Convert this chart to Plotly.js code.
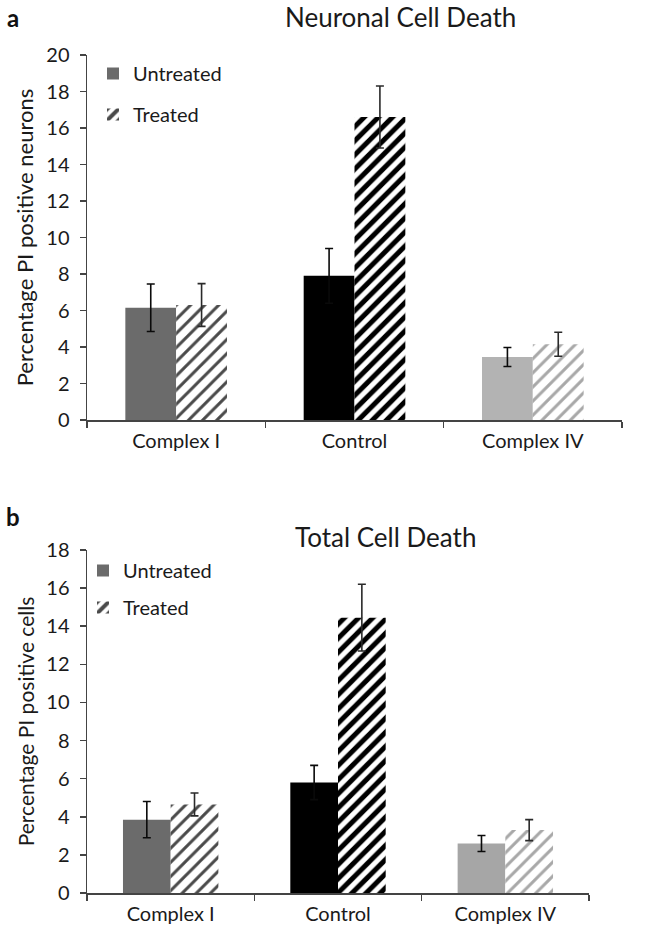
<!DOCTYPE html>
<html>
<head>
<meta charset="utf-8">
<script src="https://cdn.plot.ly/plotly-3.0.1.min.js"></script>
<style>
html,body{margin:0;padding:0;background:#fff;}
#chart{width:650px;height:936px;}
</style>
</head>
<body>
<div id="chart"></div>
<script>
// ---- Data ----
const categories = ["Complex I", "Control", "Complex IV"];
const seriesNames = ["Untreated", "Treated"];

// Panel a: Neuronal Cell Death (percentage PI positive neurons)
const neuronUntreated = [6.15, 7.9, 3.45];
const neuronUntreatedErr = [1.3, 1.5, 0.52];
const neuronTreated = [6.3, 16.6, 4.15];
const neuronTreatedErr = [1.17, 1.7, 0.66];

// Panel b: Total Cell Death (percentage PI positive cells)
const totalUntreated = [3.85, 5.8, 2.6];
const totalUntreatedErr = [0.95, 0.9, 0.42];
const totalTreated = [4.65, 14.45, 3.3];
const totalTreatedErr = [0.6, 1.75, 0.55];

const yTicksA = [0, 2, 4, 6, 8, 10, 12, 14, 16, 18, 20];
const yTicksB = [0, 2, 4, 6, 8, 10, 12, 14, 16, 18];

// ---- Styles ----
const W = 650, H = 936;
const FONT = "Lato, 'Open Sans', sans-serif";
const TXT = "#1a1a1a";
const untreatedColorsA = ["#6b6b6b", "#000000", "#b3b3b3"];
const untreatedColorsB = ["#6b6b6b", "#000000", "#a6a6a6"];
const hatchColors = ["#4a4a4a", "#000000", "#a8a8a8"];
const hatchSolidity = [0.3, 0.5, 0.3];

function untreatedTrace(y, err, colors, xa, ya, legend) {
  return {
    type: "bar", name: seriesNames[0], x: categories, y: y,
    xaxis: xa, yaxis: ya, legend: legend, legendgroup: "u",
    marker: { color: colors, line: { width: 0 } },
    error_y: { type: "data", array: err, visible: true, color: "#0a0a0a", thickness: 1.6, width: 4 },
    hoverinfo: "skip"
  };
}
function treatedTrace(y, err, xa, ya, legend) {
  return {
    type: "bar", name: seriesNames[1], x: categories, y: y,
    xaxis: xa, yaxis: ya, legend: legend, legendgroup: "t",
    marker: {
      color: "#ffffff", line: { width: 0 },
      pattern: { shape: "/", fgcolor: hatchColors, bgcolor: "#ffffff", size: 10, solidity: hatchSolidity, fillmode: "replace" }
    },
    error_y: { type: "data", array: err, visible: true, color: "#2a2a2a", thickness: 1.6, width: 4 },
    hoverinfo: "skip"
  };
}

const data = [
  untreatedTrace(neuronUntreated, neuronUntreatedErr, untreatedColorsA, "x", "y", "legend"),
  treatedTrace(neuronTreated, neuronTreatedErr, "x", "y", "legend"),
  untreatedTrace(totalUntreated, totalUntreatedErr, untreatedColorsB, "x2", "y2", "legend2"),
  treatedTrace(totalTreated, totalTreatedErr, "x2", "y2", "legend2")
];

function px(v) { return v / W; }
function py(v) { return 1 - v / H; }

function xAxis(size, dom, anchor) {
  return {
    type: "category", range: [-0.5, 2.5], showline: true, linecolor: "#444", linewidth: 1.5,
    ticks: "outside", tickson: "boundaries", ticklen: 6, tickcolor: "#444", tickwidth: 1.5,
    showgrid: false, zeroline: false, automargin: false, ticklabelstandoff: 2,
    tickfont: { family: FONT, size: size, color: TXT }, domain: dom, anchor: anchor
  };
}
function yAxis(size, dom, anchor, range, ticks, title, tsize) {
  return {
    showline: true, linecolor: "#444", linewidth: 1.5,
    ticks: "outside", ticklen: 6, tickcolor: "#444", tickwidth: 1.5,
    showgrid: false, zeroline: false, automargin: false,
    tickfont: { family: FONT, size: size, color: TXT }, ticklabelstandoff: 6,
    domain: dom, anchor: anchor, range: range, tickvals: ticks,
    title: { text: title, font: { family: FONT, size: tsize, color: TXT }, standoff: 6 }
  };
}

const layout = {
  width: W, height: H,
  margin: { l: 0, r: 0, t: 0, b: 0 },
  paper_bgcolor: "#ffffff", plot_bgcolor: "#ffffff",
  font: { family: FONT, color: TXT },
  barmode: "group", bargap: 0.43, bargroupgap: 0,
  showlegend: true,
  xaxis: xAxis(20, [px(87), px(622)], "y"),
  yaxis: yAxis(20, [py(420), py(55)], "x", [0, 20], yTicksA, "Percentage PI positive neurons", 22),
  xaxis2: xAxis(20, [px(87), px(589)], "y2"),
  yaxis2: yAxis(20, [py(893), py(550)], "x2", [0, 18], yTicksB, "Percentage PI positive cells", 21),
  legend: {
    x: px(93), y: py(54), xanchor: "left", yanchor: "top",
    bgcolor: "rgba(0,0,0,0)", traceorder: "grouped", tracegroupgap: 12,
    font: { family: FONT, size: 20, color: TXT }
  },
  legend2: {
    x: px(83), y: py(551), xanchor: "left", yanchor: "top",
    bgcolor: "rgba(0,0,0,0)", traceorder: "grouped", tracegroupgap: 8,
    font: { family: FONT, size: 20, color: TXT }
  },
  annotations: [
    { text: "<b>a</b>", xref: "paper", yref: "paper", x: px(13), y: py(17), xanchor: "center", yanchor: "middle", showarrow: false, font: { family: FONT, size: 24, color: "#111" } },
    { text: "Neuronal Cell Death", xref: "paper", yref: "paper", x: px(400), y: py(17), xanchor: "center", yanchor: "middle", showarrow: false, font: { family: FONT, size: 26, color: TXT } },
    { text: "<b>b</b>", xref: "paper", yref: "paper", x: px(13), y: py(516), xanchor: "center", yanchor: "middle", showarrow: false, font: { family: FONT, size: 24, color: "#111" } },
    { text: "Total Cell Death", xref: "paper", yref: "paper", x: px(386), y: py(537), xanchor: "center", yanchor: "middle", showarrow: false, font: { family: FONT, size: 26, color: TXT } }
  ]
};

Plotly.newPlot("chart", data, layout, { displayModeBar: false, staticPlot: true });
</script>
</body>
</html>
